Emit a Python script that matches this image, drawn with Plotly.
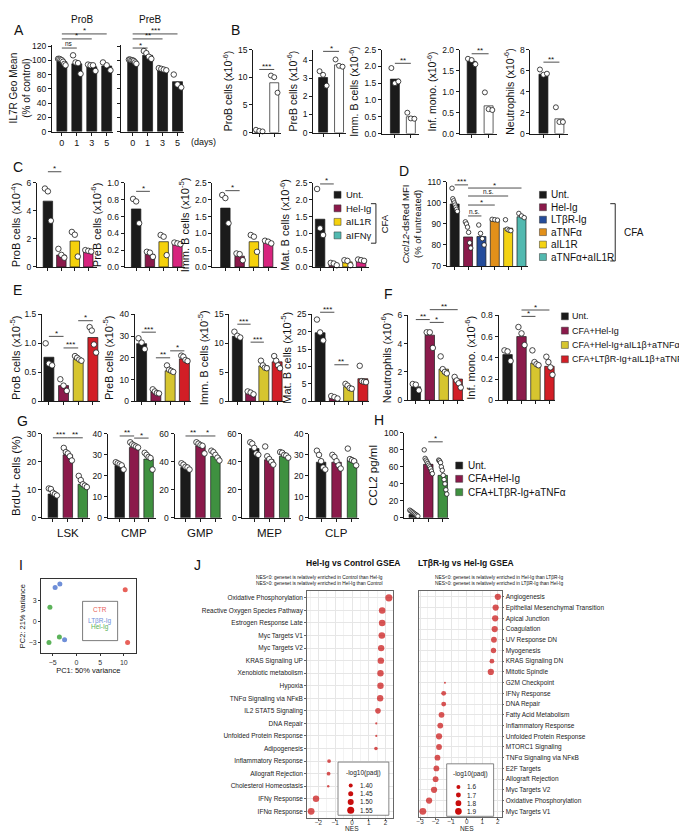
import plotly.graph_objects as go

W, H = 687, 832
FONT = "Liberation Sans, Arial, Helvetica, sans-serif"

# ---------------- DATA ----------------
# Panel A
A_days = ["0", "1", "3", "5"]
A_prob_bar = [98, 95, 91, 92]
A_prob_pts = [[102, 102, 101, 100, 98, 95, 93], [107, 97, 96, 81], [94, 93, 93, 85], [97, 93, 86]]
A_preb_bar = [99, 107, 86, 70]
A_preb_pts = [[101, 101, 100, 100, 99, 97, 95], [113, 110, 105, 102], [89, 88, 87, 86], [80, 66, 62]]

# Panel B
B_names = ["ProB cells", "PreB cells", "Imm. B cells", "Inf. mono.", "Neutrophils"]
B_bar = [[0.3, 9.0], [3.05, 3.75], [1.62, 0.5], [1.72, 0.66], [5.65, 1.4]]
B_pts = [
    [[0.5, 0.3, 0.2], [10.3, 10.0, 7.2]],
    [[3.4, 3.2, 2.6], [4.05, 3.7, 3.65]],
    [[1.95, 1.5, 1.55], [0.62, 0.45, 0.44]],
    [[1.78, 1.75, 1.65], [0.98, 0.58, 0.56]],
    [[6.1, 5.6, 5.7], [2.5, 1.1, 1.1]],
]

# Panel C
C_groups = ["Unt.", "Hel-Ig", "aIL1R", "aIFNγ"]
C_bar = [[4.7, 0.85, 1.85, 1.15], [0.69, 0.15, 0.3, 0.28], [1.75, 0.32, 0.75, 0.72], [1.42, 0.07, 0.15, 0.2]]
C_pts = [
    [[5.6, 5.4, 3.3], [1.29, 0.86, 0.66], [2.5, 2.3, 0.74], [1.2, 1.15, 1.1]],
    [[0.81, 0.78, 0.52], [0.18, 0.17, 0.12], [0.38, 0.36, 0.14], [0.29, 0.28, 0.27]],
    [[2.14, 2.05, 1.3], [0.4, 0.38, 0.2], [0.95, 0.9, 0.45], [0.78, 0.75, 0.7]],
    [[2.32, 1.15, 0.95], [0.12, 0.1, 0.05], [0.2, 0.18, 0.05], [0.22, 0.2, 0.18]],
]

# Panel D
D_groups = ["Unt.", "Hel-Ig", "LTβR-Ig", "aTNFα", "aIL1R", "aTNFα+aIL1R"]
D_bar = [99.5, 83.8, 84.0, 91.9, 88.0, 93.4]
D_pts = [[107, 102, 101, 100, 99, 98, 97, 96], [91, 90, 88.5, 86, 81, 78.5], [89.5, 85.5, 83, 80],
         [92.2, 92, 91.8], [92, 87.5, 87, 86.8], [95, 93.8, 93]]

# Panel E / F
EF_groups = ["Unt.", "CFA+Hel-Ig", "CFA+Hel-Ig+aIL1β+aTNFα", "CFA+LTβR-Ig+aIL1β+aTNFα"]
E_bar = [[0.76, 0.27, 0.72, 1.1], [26.5, 4.3, 14.0, 19.5], [11.2, 1.4, 6.1, 6.8], [19.7, 1.0, 4.2, 6.5]]
E_pts = [
    [[1.0, 0.65, 0.62], [0.38, 0.27, 0.18], [0.78, 0.75, 0.72, 0.70], [1.28, 1.22, 0.98, 0.84]],
    [[29, 27, 24], [5.5, 4.5, 3.8, 3.6], [16.5, 14.5, 14.0, 13.5], [21, 20.5, 19, 18.5]],
    [[12.0, 11.3, 11.0], [1.7, 1.5, 1.2], [7.0, 6.2, 5.8, 5.7], [7.8, 7.0, 6.2, 5.7]],
    [[23.5, 19.8, 17.5], [1.5, 1.2, 0.8], [5.0, 4.5, 3.8, 3.6], [10.2, 5.8, 5.6, 5.5]],
]
F_bar = [[0.95, 4.6, 2.2, 1.5], [0.43, 0.6, 0.35, 0.32]]
F_pts = [
    [[1.15, 1.1, 0.7], [4.8, 4.8, 3.7], [3.1, 2.2, 2.0, 1.9], [1.65, 1.4, 1.2, 0.9]],
    [[0.47, 0.46, 0.37], [0.69, 0.63, 0.52], [0.47, 0.36, 0.34, 0.33], [0.41, 0.36, 0.31, 0.24]],
]

# Panel G / H
GH_groups = ["Unt.", "CFA+Hel-Ig", "CFA+LTβR-Ig+aTNFα"]
G_pops = ["LSK", "CMP", "GMP", "MEP", "CLP"]
G_bar = [[8.5, 22.5, 12.0], [25.0, 33.5, 28.0], [36.0, 51.5, 44.0], [49.5, 41.5, 44.0], [26.5, 26.5, 27.5]]
G_pts = [
    [[10.5, 10.3, 9.0, 8.5, 8.0], [25.0, 23.5, 23.0, 22.0, 20.5], [15.0, 13.5, 12.0, 11.5, 11.0]],
    [[26.5, 26.0, 25.5, 25.0, 23.0], [36.0, 35.0, 34.5, 34.0, 33.5], [31.0, 30.0, 29.0, 28.5, 23.0]],
    [[39.0, 38.0, 36.5, 36.0, 34.5], [54.0, 53.0, 52.0, 51.5, 46.0], [48.0, 47.0, 45.0, 43.0, 41.0]],
    [[54.0, 53.0, 50.0, 46.0, 45.0], [51.0, 44.0, 42.0, 40.0, 38.0], [47.0, 46.5, 45.0, 44.5, 43.0]],
    [[32.0, 30.0, 27.0, 24.0, 23.0], [30.0, 29.0, 27.0, 25.0, 23.5], [33.0, 28.0, 27.5, 27.0, 25.0]],
]
H_bar = [4.0, 63.0, 50.0]
H_pts = [[9, 8, 7, 6, 5, 4, 3, 2], [80, 70, 68, 66, 64, 62, 60, 58, 55, 52],
         [68, 67, 65, 60, 56, 50, 45, 40, 33, 28]]

# Panel I (PCA)
I_groups = ["CTR", "LTβR-Ig", "Hel-Ig"]
I_pc1 = [[10.3, 10.8], [-4.5, -3.5, -2.5], [-5.6, -5.8, -3.6]]
I_pc2 = [[4.5, -3.0], [4.8, 5.3, -2.6], [2.0, -3.0, -2.2]]

# Panel J (GSEA)
J1_sets = ["Oxidative Phosphorylation", "Reactive Oxygen Species Pathway", "Estrogen Response Late",
           "Myc Targets V1", "Myc Targets V2", "KRAS Signaling UP", "Xenobiotic metabolism", "Hypoxia",
           "TNFα Signaling via NFκB", "IL2 STAT5 Signaling", "DNA Repair", "Unfolded Protein Response",
           "Adipogenesis", "Inflammatory Response", "Allograft Rejection", "Cholesterol Homeostasis",
           "IFNγ Response", "IFNα Response"]
J1_nes = [2.2, 1.8, 1.8, 1.78, 1.74, 1.72, 1.7, 1.7, 1.68, 1.55, 1.45, 1.45, 1.43,
          -1.37, -1.4, -1.42, -2.15, -2.44]
J1_padj = [1.56, 1.53, 1.53, 1.53, 1.52, 1.52, 1.52, 1.52, 1.52, 1.48, 1.31, 1.31, 1.38,
           1.39, 1.39, 1.32, 1.52, 1.54]
J1_leg = [1.40, 1.45, 1.50, 1.55]

J2_sets = ["Angiogenesis", "Epithelial Mesenchymal Transition", "Apical Junction", "Coagulation",
           "UV Response DN", "Myogenesis", "KRAS Signaling DN", "Mitotic Spindle", "G2M Checkpoint",
           "IFNγ Response", "DNA Repair", "Fatty Acid Metabolism", "Inflammatory Response",
           "Unfolded Protein Response", "MTORC1 Signaling", "TNFα Signaling via NFκB", "E2F Targets",
           "Allograft Rejection", "Myc Targets V2", "Oxidative Phosphorylation", "Myc Targets V1"]
J2_nes = [2.0, 1.86, 1.83, 1.8, 1.75, 1.72, 1.62, 1.55, -1.4, -1.48, -1.48, -1.62, -1.7, -1.78,
          -1.78, -1.88, -1.95, -2.0, -2.1, -2.42, -2.82]
J2_padj = [1.85, 1.85, 1.85, 1.85, 1.8, 1.75, 1.68, 1.85, 1.38, 1.7, 1.7, 1.8, 1.8, 1.85, 1.8,
           1.8, 1.8, 1.8, 1.85, 1.85, 1.92]
J2_leg = [1.6, 1.7, 1.8, 1.9]

# ---------------- STYLE ----------------
BLK = "#1b1b1b"
MAR = "#8b1a4b"
YEL_C = "#f5d10c"
PINK = "#d7247e"
TEAL = "#52b9b0"
BLUE = "#244c9b"
ORNG = "#e2901a"
YEL_D = "#f4d313"
YEL_E = "#d6c52f"
RED = "#d21e26"
GRN = "#3f9140"
JRED = "#c80d0d"

fig = go.Figure()
layout = {}
shapes = []
annotations = []
counter = [0]


def new_axes():
    counter[0] += 1
    k = counter[0]
    s = "" if k == 1 else str(k)
    return "x" + s, "y" + s, "xaxis" + s, "yaxis" + s


def ptext(x, y, s, size=9, xanchor="center", yanchor="middle", color="#111", angle=0):
    annotations.append(dict(x=x / W, y=1 - y / H, xref="paper", yref="paper", text=s, showarrow=False,
                            xanchor=xanchor, yanchor=yanchor, textangle=angle,
                            font=dict(family=FONT, size=size, color=color)))


def pline(x0, y0, x1, y1, color="#111", width=0.9):
    shapes.append(dict(type="line", xref="paper", yref="paper", x0=x0 / W, x1=x1 / W,
                       y0=1 - y0 / H, y1=1 - y1 / H, line=dict(color=color, width=width)))


def legend_item(x, y, color, label, size=9.5, sq=7, gap=3):
    shapes.append(dict(type="rect", xref="paper", yref="paper", x0=x / W, x1=(x + sq) / W,
                       y0=1 - (y + sq / 2) / H, y1=1 - (y - sq / 2) / H, fillcolor=color,
                       line=dict(color="#333", width=0.5)))
    ptext(x + sq + gap, y, label, size, xanchor="left")


def add_sig(xr, yr, yrange, i, j, level, label):
    f = (level - yrange[0]) / (yrange[1] - yrange[0])
    shapes.append(dict(type="line", xref=xr, yref=yr + " domain", x0=i, x1=j, y0=f, y1=f,
                       line=dict(color="#222", width=0.8)))
    star = "*" in label
    annotations.append(dict(x=(i + j) / 2, y=f, xref=xr, yref=yr + " domain", text=label, showarrow=False,
                            xanchor="center", yanchor="bottom", yshift=-3.5 if star else -1,
                            font=dict(family=FONT, size=8 if star else 6.5, color="#111")))


def bar_panel(bars, pts, colors, yrange, yticks, box, c0, s, bw=9.5, ytitle=None, yticktext=None,
              xlabels=None, sigs=(), ylabels=True, dot=5.0, spread=0.22, standoff=3, titlefs=9.5):
    x_left, x_right, y_top, y_bot = box
    xr, yr, xk, yk = new_axes()
    n = len(bars)
    xs = list(range(n))
    fig.add_trace(go.Bar(x=xs, y=bars, width=bw / s,
                         marker=dict(color=colors, line=dict(color=BLK, width=0.7)),
                         xaxis=xr, yaxis=yr, showlegend=False, hoverinfo="skip"))
    px_, py_ = [], []
    for i, p in enumerate(pts):
        m = len(p)
        for j, v in enumerate(p):
            off = 0.0 if m == 1 else (j - (m - 1) / 2) * (2 * spread / (m - 1))
            px_.append(i + off)
            py_.append(v)
    fig.add_trace(go.Scatter(x=px_, y=py_, mode="markers", cliponaxis=False,
                             marker=dict(size=dot, color="white", line=dict(color=BLK, width=0.8)),
                             xaxis=xr, yaxis=yr, showlegend=False, hoverinfo="skip"))
    xa = dict(domain=[x_left / W, x_right / W], anchor=yr,
              range=[(x_left - c0) / s, (x_right - c0) / s],
              showline=True, linecolor=BLK, linewidth=1, ticks="outside", ticklen=3,
              tickwidth=1, tickcolor=BLK, tickvals=xs, showticklabels=bool(xlabels),
              tickfont=dict(family=FONT, size=9, color="#111"),
              showgrid=False, zeroline=False, fixedrange=True)
    if xlabels:
        xa["ticktext"] = xlabels
    layout[xk] = xa
    ya = dict(domain=[1 - y_bot / H, 1 - y_top / H], anchor=xr, range=yrange, tickvals=yticks,
              showticklabels=ylabels, showline=True, linecolor=BLK, linewidth=1, ticks="outside",
              ticklen=3, tickwidth=1, tickcolor=BLK, tickfont=dict(family=FONT, size=8.5, color="#111"),
              showgrid=False, zeroline=False, fixedrange=True)
    if yticktext is not None:
        ya["ticktext"] = yticktext
    if ytitle:
        ya["title"] = dict(text=ytitle, font=dict(family=FONT, size=titlefs, color="#111"), standoff=standoff)
    layout[yk] = ya
    for sg in sigs:
        add_sig(xr, yr, yrange, *sg)
    return xr, yr


# ---------------- PANEL A ----------------
A_y = [0, 122]
A_ticks = [0, 20, 40, 60, 80, 100, 120]
bar_panel(A_prob_bar, A_prob_pts, [BLK] * 4, A_y, A_ticks, (42, 103, 32, 120), 52, 15, bw=10,
          ytitle="IL7R Geo Mean<br>(% of control)", xlabels=A_days,
          sigs=[(0, 1, 117.2, "ns"), (0, 2, 130, "*"), (0, 3, 137, "*")], dot=5.5, spread=0.25, titlefs=10)
bar_panel(A_preb_bar, A_preb_pts, [BLK] * 4, A_y, A_ticks, (111, 175, 32, 120), 123, 15, bw=10,
          xlabels=A_days, ylabels=False,
          sigs=[(0, 1, 117.2, "*"), (0, 2, 130, "**"), (0, 3, 137, "***")], dot=5.5, spread=0.25)
ptext(73, 7, "ProB", 10)
ptext(141, 7, "PreB", 10)
ptext(180, 131, "(days)", 9, xanchor="left")

# ---------------- PANEL B ----------------
B_specs = [
    ([0, 15], [0, 5, 10, 15], None, (244, 272, 37, 121), 250, 15, 11.4, "***"),
    ([0, 4.6], [0, 1, 2, 3, 4], None, (304, 337, 37, 121), 314, 16, 4.5, "*"),
    ([0, 2.5], [0, 0.5, 1, 1.5, 2, 2.5], ["0.0", "0.5", "1.0", "1.5", "2.0", "2.5"], (373, 410, 37, 122), 386, 16, 2.09, "**"),
    ([0, 2.0], [0, 0.5, 1, 1.5, 2], ["0.0", "0.5", "1.0", "1.5", "2.0"], (451, 488, 37, 122), 463, 17, 1.9, "**"),
    ([0, 8], [0, 2, 4, 6, 8], None, (522, 560, 37, 122), 535, 16, 6.8, "**"),
]
for (yrg, ytk, ytt, box, c0, s, lev, lab), name, bars, pts in zip(B_specs, B_names, B_bar, B_pts):
    bar_panel(bars, pts, [BLK, "white"], yrg, ytk, box, c0, s, bw=9, yticktext=ytt,
              ytitle=name + " (x10<sup>-6</sup>)", sigs=[(0, 1, lev, lab)], titlefs=10.5)

# ---------------- PANEL C ----------------
C_colors = [BLK, MAR, YEL_C, PINK]
C_specs = [
    ("ProB cells (x10<sup>-4</sup>)", [0, 6], [0, 2, 4, 6], None, (27, 87, 172, 257), 38, 13.5, 6.8),
    ("PreB cells (x10<sup>-6</sup>)", [0, 1.0], [0, 0.2, 0.4, 0.6, 0.8, 1.0], ["0.0", "0.2", "0.4", "0.6", "0.8", "1.0"], (115, 176, 172, 257), 126.5, 13.8, 0.9),
    ("Imm. B cells (x10<sup>-5</sup>)", [0, 2.5], [0, 0.5, 1, 1.5, 2, 2.5], ["0.0", "0.5", "1.0", "1.5", "2.0", "2.5"], (203, 268, 172, 257), 216, 14.3, 2.27),
    ("Mat. B cells (x10<sup>-6</sup>)", [0, 2.5], [0, 0.5, 1, 1.5, 2, 2.5], ["0.0", "0.5", "1.0", "1.5", "2.0", "2.5"], (304, 360, 172, 257), 311, 13.7, 2.47),
]
for (tt, yrg, ytk, ytt, box, c0, s, lev), bars, pts in zip(C_specs, C_bar, C_pts):
    bar_panel(bars, pts, C_colors, yrg, ytk, box, c0, s, bw=9.5, yticktext=ytt, ytitle=tt,
              sigs=[(0, 1, lev, "*")], titlefs=11, dot=5.5)
C_leg_colors = [BLK, MAR, YEL_C, TEAL]
for i, (g, c) in enumerate(zip(C_groups, C_leg_colors)):
    legend_item(325, 184 + 13.7 * i, c, g, 9.5, gap=2.5)
pline(362, 193, 367, 193)
pline(367, 193, 367, 233)
pline(362, 233, 367, 233)
ptext(376, 213, "CFA", 9.5, angle=-90)

# ---------------- PANEL D ----------------
D_colors = [BLK, MAR, BLUE, ORNG, YEL_D, TEAL]
bar_panel(D_bar, D_pts, D_colors, [70, 110], [70, 80, 90, 100, 110], (438, 520, 171, 256), 446, 13.4,
          bw=9, ytitle="<i>Cxcl12</i>-dsRed MFI<br>(% of untreated)", dot=4.5, spread=0.2,
          sigs=[(0, 1, 108.6, "***"), (1, 5, 107.1, "*"), (1, 4, 103.3, "n.s."),
                (1, 3, 99.0, "*"), (1, 2, 93.8, "n.s.")], titlefs=9.5)
for i, (g, c) in enumerate(zip(D_groups, D_colors)):
    legend_item(531, 184 + 12.6 * i, c, g, 10)
pline(602, 193, 607, 193)
pline(607, 193, 607, 251)
pline(602, 251, 607, 251)
ptext(614, 222, "CFA", 10, xanchor="left")

# ---------------- PANEL E ----------------
EF_colors = [BLK, MAR, YEL_E, RED]
E_specs = [
    ("ProB cells (x10<sup>-5</sup>)", [0, 1.5], [0, 0.5, 1.0, 1.5], ["0", "0.5", "1.0", "1.5"], (32, 90, 305, 393), 39, 14.7,
     [(0, 1, 1.12, "*"), (1, 2, 0.92, "***"), (2, 3, 1.39, "*")]),
    ("PreB cells (x10<sup>-5</sup>)", [0, 40], [0, 10, 20, 30, 40], None, (125, 182, 305, 393), 132, 14.3,
     [(0, 1, 31.8, "***"), (1, 2, 20, "**"), (2, 3, 23.2, "*")]),
    ("Imm. B cells (x10<sup>-5</sup>)", [0, 15], [0, 5, 10, 15], None, (220, 276, 305, 393), 228, 13.3,
     [(0, 1, 13.3, "***"), (1, 2, 10.2, "***")]),
    ("Mat. B cells (x10<sup>-5</sup>)", [0, 25], [0, 5, 10, 15, 20, 25], None, (303, 360, 305, 393), 311, 14.3,
     [(0, 1, 25.6, "***"), (1, 2, 10.5, "**")]),
]
for (tt, yrg, ytk, ytt, box, c0, s, sg), bars, pts in zip(E_specs, E_bar, E_pts):
    bar_panel(bars, pts, EF_colors, yrg, ytk, box, c0, s, bw=10, yticktext=ytt, ytitle=tt, sigs=sg,
              titlefs=11, dot=5.5)

# ---------------- PANEL F ----------------
F_specs = [
    ("Neutrophils (x10<sup>-6</sup>)", [0, 6], [0, 2, 4, 6], None, (399, 455, 306, 392), 407, 14,
     [(0, 1, 5.7, "**"), (1, 2, 5.5, "*"), (1, 3, 6.4, "**")]),
    ("Inf. mono. (x10<sup>-6</sup>)", [0, 0.8], [0, 0.2, 0.4, 0.6, 0.8], ["0", "0.2", "0.4", "0.6", "0.8"], (490, 547, 306, 392), 499, 14,
     [(1, 2, 0.79, "*"), (1, 3, 0.85, "*")]),
]
for (tt, yrg, ytk, ytt, box, c0, s, sg), bars, pts in zip(F_specs, F_bar, F_pts):
    bar_panel(bars, pts, EF_colors, yrg, ytk, box, c0, s, bw=9.5, yticktext=ytt, ytitle=tt, sigs=sg,
              titlefs=11, dot=5.5)
for i, (g, c) in enumerate(zip(EF_groups, EF_colors)):
    legend_item(553, 307 + 14.5 * i, c, g, 9, gap=2)

# ---------------- PANEL G ----------------
GH_colors = [BLK, MAR, GRN]
G_specs = [
    ([0, 30], [0, 10, 20, 30], (32, 80, 426, 511), 43, 15, [(0, 1, 28.6, "***"), (1, 2, 28.6, "**")]),
    ([0, 40], [0, 10, 20, 30, 40], (98, 146, 426, 511), 110, 14.5, [(0, 1, 39, "**"), (1, 2, 38, "*")]),
    ([0, 60], [0, 20, 40, 60], (165, 213, 426, 511), 176, 15, [(0, 1, 58.5, "**"), (1, 2, 58.5, "*")]),
    ([0, 60], [0, 20, 40, 60], (233, 282, 426, 511), 245, 15, []),
    ([0, 40], [0, 10, 20, 30, 40], (300, 350, 426, 511), 312, 15.5, []),
]
for idx, ((yrg, ytk, box, c0, s, sg), pop, bars, pts) in enumerate(zip(G_specs, G_pops, G_bar, G_pts)):
    xr, yr = bar_panel(bars, pts, GH_colors, yrg, ytk, box, c0, s, bw=9.5,
                       ytitle="BrdU+ cells (%)" if idx == 0 else None, sigs=sg, spread=0.27,
                       titlefs=11.5, dot=5.5)
    annotations.append(dict(x=1, y=1 - 526 / H, xref=xr, yref="paper", text=pop, showarrow=False,
                            xanchor="center", yanchor="middle", font=dict(family=FONT, size=11.5, color="#111")))

# ---------------- PANEL H ----------------
bar_panel(H_bar, H_pts, GH_colors, [0, 100], [0, 20, 40, 60, 80, 100], (395, 440, 425, 511), 405, 14.5,
          bw=9.5, ytitle="CCL2 pg/ml", sigs=[(1, 2, 89.5, "*")], dot=4.5, spread=0.28, titlefs=11.5)
for i, (g, c) in enumerate(zip(GH_groups, GH_colors)):
    legend_item(447, 458 + 13.5 * i, c, g, 10)

# ---------------- PANEL I ----------------
I_colors = ["#e8615a", "#6f8fd8", "#5cb35a"]
xr, yr, xk, yk = new_axes()
for g, c, xs_, ys_ in zip(I_groups, I_colors, I_pc1, I_pc2):
    fig.add_trace(go.Scatter(x=xs_, y=ys_, mode="markers", marker=dict(size=5, color=c),
                             xaxis=xr, yaxis=yr, showlegend=False, hoverinfo="skip"))
I_box = (31, 126, 573, 648)
layout[xk] = dict(domain=[I_box[0] / W, I_box[1] / W], anchor=yr, range=[-7.5, 12.5], tickvals=[-5, 0, 5, 10],
                  showline=True, mirror=True, linecolor="#333", linewidth=0.8, ticks="outside", ticklen=2,
                  tickcolor="#333", tickfont=dict(family=FONT, size=7, color="#333"), showgrid=False,
                  zeroline=False, title=dict(text="PC1: 50% variance", font=dict(family=FONT, size=7.5), standoff=1))
layout[yk] = dict(domain=[1 - I_box[3] / H, 1 - I_box[2] / H], anchor=xr, range=[-4.5, 6], tickvals=[-3, 0, 3],
                  showline=True, mirror=True, linecolor="#333", linewidth=0.8, ticks="outside", ticklen=2,
                  tickcolor="#333", tickfont=dict(family=FONT, size=7, color="#333"), showgrid=False,
                  zeroline=False, title=dict(text="PC2: 21% variance", font=dict(family=FONT, size=7.5), standoff=1))
shapes.append(dict(type="rect", xref=xr + " domain", yref=yr + " domain", x0=0.44, x1=0.81, y0=0.17, y1=0.70,
                   line=dict(color="#444", width=0.7), fillcolor="white"))
for i, (g, c) in enumerate(zip(I_groups, I_colors)):
    annotations.append(dict(x=0.625, y=0.585 - 0.155 * i, xref=xr + " domain", yref=yr + " domain", text=g,
                            showarrow=False, font=dict(family=FONT, size=6.5, color=c)))


# ---------------- PANEL J ----------------
def gsea_panel(sets, nes, padj, leg_vals, fmt, box, xrange, side, size_of, legbox, title, sub1, sub2, tcx, scx):
    xr, yr, xk, yk = new_axes()
    n = len(sets)
    x_left, x_right, y_top, y_bot = box
    yrange = [n - 1 + 0.55, -0.55]
    fig.add_trace(go.Scatter(x=nes, y=list(range(n)), mode="markers",
                             marker=dict(size=[size_of(p) for p in padj], color=JRED, line=dict(width=0)),
                             xaxis=xr, yaxis=yr, showlegend=False, hoverinfo="skip"))
    layout[xk] = dict(domain=[x_left / W, x_right / W], anchor=yr, range=xrange, dtick=1, tick0=0,
                      showline=True, mirror=True, linecolor="#666", linewidth=0.8, ticks="outside", ticklen=2,
                      tickcolor="#666", tickfont=dict(family=FONT, size=6.3, color="#333"),
                      ticklabelstandoff=-4,
                      showgrid=True, gridcolor="#e6e6e6", gridwidth=0.7, zeroline=False,
                      minor=dict(dtick=0.5, showgrid=True, gridcolor="#f3f3f3", gridwidth=0.5))
    layout[yk] = dict(domain=[1 - y_bot / H, 1 - y_top / H], anchor=xr, range=yrange, tickvals=list(range(n)),
                      ticktext=sets, side=side, showline=True, mirror=True, linecolor="#666", linewidth=0.8,
                      ticks="outside", ticklen=2, tickcolor="#666",
                      tickfont=dict(family=FONT, size=6.5, color="#222"),
                      showgrid=True, gridcolor="#e6e6e6", gridwidth=0.7, zeroline=False)
    fx0, fx1, fy0, fy1 = legbox
    dx, dy = xr + " domain", yr + " domain"
    shapes.append(dict(type="rect", xref=dx, yref=dy, x0=fx0, x1=fx1, y0=fy0, y1=fy1,
                       line=dict(color="#666", width=0.8), fillcolor="white"))
    span = fy1 - fy0
    cx = fx0 + 0.25 * (fx1 - fx0)
    for i, v in enumerate(leg_vals):
        fy = fy1 - span * (0.44 + 0.155 * i)
        r = size_of(v) / 2
        shapes.append(dict(type="circle", xref=dx, yref=dy, xsizemode="pixel", ysizemode="pixel",
                           xanchor=cx, yanchor=fy, x0=-r, x1=r, y0=-r, y1=r, fillcolor=JRED,
                           line=dict(width=0)))
        annotations.append(dict(x=fx0 + 0.40 * (fx1 - fx0), y=fy, xref=dx, yref=dy, text=fmt % v,
                                showarrow=False, xanchor="left", yanchor="middle",
                                font=dict(family=FONT, size=6.5, color="#222")))
    annotations.append(dict(x=(fx0 + fx1) / 2, y=fy1 - span * 0.2, xref=dx, yref=dy,
                            text="-log10(padj)", showarrow=False, xanchor="center", yanchor="middle",
                            font=dict(family=FONT, size=6.5, color="#222")))
    annotations.append(dict(x=0, y=0, xref=xr, yref="paper", text="NES", showarrow=False,
                            xanchor="center", yanchor="bottom", yshift=1.5,
                            font=dict(family=FONT, size=6.6, color="#222")))
    ptext(tcx, 557, "<b>" + title + "</b>", 8.5)
    ptext(scx, 571, sub1, 4.8)
    ptext(scx, 577, sub2, 4.8)


gsea_panel(J1_sets, J1_nes, J1_padj, J1_leg, "%.2f", (298, 384, 585, 815), [-2.68, 2.44], "left",
           lambda p: max(1.8, 4 + (p - 1.40) * 20), (0.36, 0.953, 0.013, 0.247),
           "Hel-Ig vs Control GSEA",
           "NES&lt;0: geneset is relatively enriched in Control than Hel-Ig",
           "NES&gt;0: geneset is relatively enriched in Hel-Ig than Control", 344, 310)
gsea_panel(J2_sets, J2_nes, J2_padj, J2_leg, "%.1f", (410, 493, 585, 814), [-3.08, 2.24], "right",
           lambda p: max(1.8, 4 + (p - 1.6) * 9), (0.337, 0.904, 0.004, 0.236),
           "LTβR-Ig vs Hel-Ig GSEA",
           "NES&lt;0: geneset is relatively enriched in Hel-Ig than LTβR-Ig",
           "NES&gt;0: geneset is relatively enriched in LTβR-Ig than Hel-Ig", 457, 490)

# ---------------- PANEL LETTERS ----------------
for letter, (lx, ly) in {"A": (2, 17), "B": (220, 17), "C": (1, 156), "D": (388, 160), "E": (1, 280),
                          "F": (373, 284), "G": (5, 413), "H": (363, 412), "I": (7, 559), "J": (183, 559)}.items():
    ptext(lx, ly, letter, 14, xanchor="left")

layout.update(dict(width=W, height=H, margin=dict(l=0, r=0, t=0, b=0), autosize=False,
                   paper_bgcolor="white", plot_bgcolor="white", showlegend=False, hovermode=False,
                   font=dict(family=FONT, size=9, color="#111"), shapes=shapes, annotations=annotations))
fig.update_layout(**layout)
fig.write_html("out.html")
